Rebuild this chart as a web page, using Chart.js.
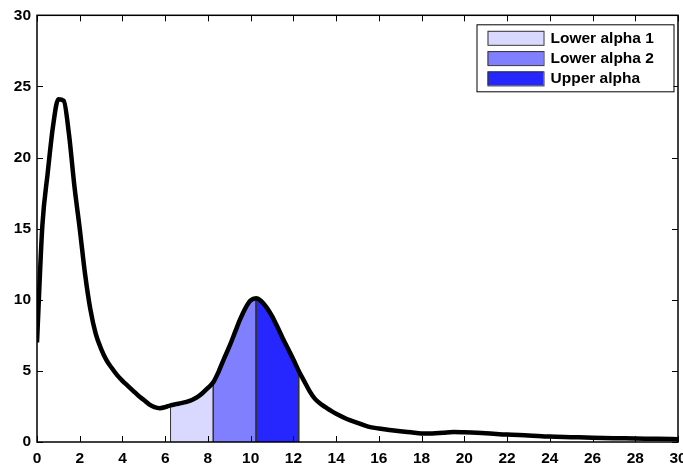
<!DOCTYPE html>
<html>
<head>
<meta charset="utf-8">
<script src="https://cdn.jsdelivr.net/npm/chart.js@4.4.0/dist/chart.umd.min.js"></script>
<style>
  html, body { margin: 0; padding: 0; background: #fff; overflow: hidden; }
  #wrap { position: relative; width: 700px; height: 467px; }
</style>
</head>
<body>
<div id="wrap"><canvas id="psd"></canvas></div>
<script>
// spectrum: frequency (Hz) and power
const freqs = [0, 0.25, 0.5, 0.75, 1, 1.25, 1.5, 1.75, 2, 2.25, 2.5, 2.75, 3, 3.25, 3.5, 3.75,
  4, 4.25, 4.5, 4.75, 5, 5.25, 5.5, 5.75, 6, 6.25, 6.5, 6.75, 7, 7.25, 7.5, 7.75,
  8, 8.25, 8.5, 8.75, 9, 9.25, 9.5, 9.75, 10, 10.25, 10.5, 10.75, 11, 11.25, 11.5, 11.75,
  12, 12.25, 12.5, 12.75, 13, 13.25, 13.5, 13.75, 14, 14.5, 15, 15.5, 16, 16.5, 17, 17.5,
  18, 18.5, 19, 19.5, 20, 21, 22, 23, 24, 25, 26, 27, 28, 29, 30]
const power = [7.0, 15.2, 18.9, 22.2, 24.1, 24.0, 21.6, 18.0, 15.0, 11.8, 9.3, 7.6, 6.55, 5.75, 5.2, 4.7,
  4.3, 3.95, 3.6, 3.25, 2.95, 2.65, 2.45, 2.38, 2.45, 2.58, 2.66, 2.73, 2.82, 2.95, 3.15, 3.45,
  3.8, 4.2, 4.95, 5.85, 6.7, 7.65, 8.6, 9.4, 9.95, 10.1, 9.9, 9.45, 8.85, 8.1, 7.3, 6.55,
  5.8, 5.0, 4.3, 3.6, 3.05, 2.7, 2.45, 2.2, 1.98, 1.62, 1.35, 1.08, 0.95, 0.85, 0.76, 0.68,
  0.6, 0.6, 0.65, 0.7, 0.68, 0.62, 0.52, 0.46, 0.38, 0.34, 0.3, 0.27, 0.25, 0.22, 0.2]

const bandNames = ['Lower alpha 1', 'Lower alpha 2', 'Upper alpha']
const bandEdges = [6.25, 8.25, 10.25, 12.25]
const bandColors = ['#d9d9ff', '#8080ff', '#2626ff']

const FONT = '"Liberation Sans", Arial, sans-serif'
Chart.defaults.font.family = FONT
Chart.defaults.font.size = 15.5
Chart.defaults.font.weight = 'bold'
Chart.defaults.color = '#000'

const curve = freqs.map((f, i) => ({x: f, y: power[i]}))

// each band is the area under the curve between two edges, closed down to zero
const bands = bandNames.map((name, b) => {
    const lo = bandEdges[b], hi = bandEdges[b + 1]
    const pts = curve.filter(p => p.x >= lo && p.x <= hi)
    return {
        label: name,
        data: [{x: lo, y: 0}, ...pts, {x: hi, y: 0}],
        fill: 'origin',
        backgroundColor: bandColors[b],
        borderColor: '#333',
        borderWidth: 1,
        pointRadius: 0,
        tension: 0,
        order: 1
    }
})

// box round the plot with inward ticks on all four sides
const frame = {
    id: 'frame',
    afterDatasetsDraw(chart) {
        const {ctx, chartArea: a, scales: {x, y}} = chart
        const len = 6
        ctx.save()
        ctx.strokeStyle = '#000'
        ctx.lineWidth = 1
        ctx.beginPath()
        x.ticks.forEach(t => {
            const px = Math.round(x.getPixelForValue(t.value)) + 0.5
            ctx.moveTo(px, a.bottom); ctx.lineTo(px, a.bottom - len)
            ctx.moveTo(px, a.top); ctx.lineTo(px, a.top + len)
        })
        y.ticks.forEach(t => {
            const py = Math.round(y.getPixelForValue(t.value)) + 0.5
            ctx.moveTo(a.left, py); ctx.lineTo(a.left + len, py)
            ctx.moveTo(a.right, py); ctx.lineTo(a.right - len, py)
        })
        ctx.stroke()
        ctx.lineWidth = 1.5
        ctx.strokeRect(a.left, a.top, a.right - a.left, a.bottom - a.top)
        ctx.restore()
    },
    afterDraw(chart) {
        const {ctx, chartArea: a} = chart
        const sets = chart.data.datasets.filter(d => d.label)
        const w = 197, h = 67, rowH = 20.3
        const left = a.right - 4.5 - w, top = a.top + 9
        ctx.save()
        ctx.fillStyle = '#fff'
        ctx.fillRect(left, top, w, h)
        ctx.strokeStyle = '#000'
        ctx.lineWidth = 1
        ctx.strokeRect(left + 0.5, top + 0.5, w, h)
        ctx.font = 'bold 15.5px ' + FONT
        ctx.textBaseline = 'middle'
        sets.forEach((d, i) => {
            const cy = top + 13.5 + i * rowH
            ctx.fillStyle = d.backgroundColor
            ctx.fillRect(left + 11, cy - 7, 56, 14)
            ctx.strokeStyle = '#333'
            ctx.strokeRect(left + 11.5, cy - 6.5, 56, 14)
            ctx.fillStyle = '#000'
            ctx.fillText(d.label, left + 74, cy + 0.5)
        })
        ctx.restore()
    }
}

new Chart(document.getElementById('psd'), {
    type: 'line',
    data: {
        datasets: [{
            data: curve,
            borderColor: '#000',
            borderWidth: 4.5,
            pointRadius: 0,
            fill: false,
            cubicInterpolationMode: 'monotone',
            borderJoinStyle: 'round',
            order: 0
        }, ...bands]
    },
    options: {
        responsive: true,
        maintainAspectRatio: false,
        animation: false,
        layout: {padding: {left: 0, right: 22, top: 14, bottom: 0}},
        plugins: {legend: {display: false}, tooltip: {enabled: false}},
        scales: {
            x: {
                type: 'linear', min: 0, max: 30,
                ticks: {stepSize: 2, padding: 7, maxRotation: 0},
                grid: {display: false, drawTicks: false},
                border: {display: false},
                afterFit: s => { s.height = 25 }
            },
            y: {
                min: 0, max: 30,
                ticks: {stepSize: 5, padding: 6},
                grid: {display: false, drawTicks: false},
                border: {display: false},
                afterFit: s => { s.width = 37 }
            }
        }
    },
    plugins: [frame]
})
</script>
</body>
</html>
